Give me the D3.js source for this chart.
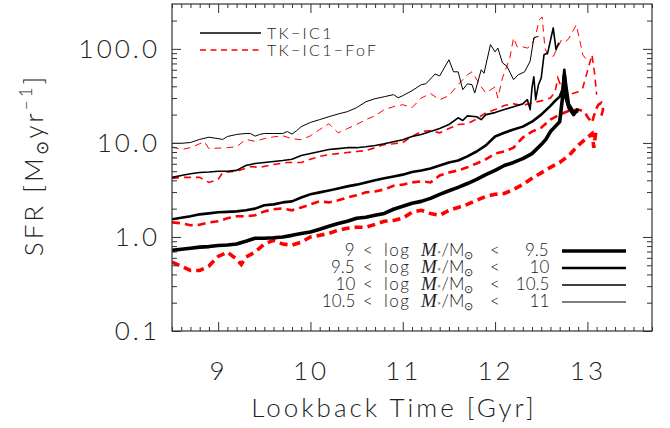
<!DOCTYPE html>
<html>
<head>
<meta charset="utf-8">
<script src="https://cdn.jsdelivr.net/npm/d3@7"></script>
<style>
  body { margin: 0; background: #fff; }
  text { font-family: Lato, "DejaVu Sans", sans-serif; font-weight: 300; fill: #222; }
</style>
</head>
<body>
<svg id="svg" width="670" height="428"></svg>
<script>
// mass bins (log M*/Msun)
const binLow = ['9', '9.5', '10', '10.5'];
const binHigh = ['9.5', '10', '10.5', '11'];
const xTicks = [9, 10, 11, 12, 13];
const yTicks = [0.1, 1, 10, 100];
const runNames = ['TK\u2212IC1', 'TK\u2212IC1\u2212FoF'];

// [lookback time Gyr, SFR Msun/yr]  -- TK-IC1
const tk_9_95 = [[8.5,0.72],[8.6,0.74],[8.7,0.76],[8.8,0.78],[8.9,0.79],[9.0,0.81],[9.1,0.82],[9.2,0.84],[9.3,0.90],[9.4,0.97],[9.5,0.97],[9.6,0.98],[9.7,1.0],[9.8,1.04],[9.9,1.09],[10.0,1.13],[10.1,1.21],[10.2,1.30],[10.3,1.39],[10.4,1.47],[10.5,1.58],[10.6,1.62],[10.7,1.70],[10.8,1.78],[10.9,1.97],[11.0,2.12],[11.1,2.28],[11.2,2.39],[11.3,2.57],[11.4,2.84],[11.5,3.1],[11.6,3.37],[11.7,3.7],[11.8,4.1],[11.9,4.6],[12.0,5.1],[12.1,5.75],[12.2,6.2],[12.3,6.8],[12.4,7.7],[12.5,9.6],[12.55,10.9],[12.6,13.2],[12.65,14.9],[12.7,16.8],[12.73,30],[12.75,52],[12.77,30],[12.8,23.7],[12.85,20],[12.9,23]];
const tk_95_10 = [[8.5,1.54],[8.6,1.60],[8.7,1.66],[8.8,1.74],[8.9,1.78],[9.0,1.83],[9.1,1.85],[9.2,1.87],[9.3,1.92],[9.4,2.0],[9.5,2.17],[9.6,2.22],[9.7,2.33],[9.8,2.39],[9.9,2.63],[10.0,2.84],[10.1,2.98],[10.2,3.12],[10.3,3.28],[10.4,3.45],[10.5,3.6],[10.6,3.8],[10.7,4.0],[10.8,4.2],[10.9,4.4],[11.0,4.6],[11.1,4.9],[11.2,5.1],[11.3,5.35],[11.4,5.75],[11.5,6.2],[11.6,6.5],[11.7,7.2],[11.8,8.1],[11.9,9.4],[12.0,11.7],[12.1,12.8],[12.2,13.9],[12.3,14.9],[12.4,16.8],[12.5,20],[12.6,24.8],[12.65,28],[12.7,31],[12.73,37],[12.75,60],[12.77,41.6],[12.8,26],[12.85,21.5],[12.9,21.5]];
const tk_10_105 = [[8.5,4.3],[8.6,4.5],[8.7,4.7],[8.8,4.85],[8.9,4.9],[9.0,5.0],[9.1,5.0],[9.2,5.1],[9.3,5.75],[9.4,6.05],[9.5,6.2],[9.6,6.35],[9.7,6.5],[9.8,6.7],[9.9,7.35],[10.0,7.7],[10.1,8.1],[10.2,8.5],[10.3,8.7],[10.4,8.9],[10.5,8.9],[10.6,9.1],[10.7,9.4],[10.8,9.8],[10.9,10.3],[11.0,10.8],[11.1,11.7],[11.2,12.3],[11.3,13.2],[11.4,14.2],[11.5,15.7],[11.6,18.5],[11.65,17.3],[11.7,19.4],[11.8,19],[11.85,17.7],[11.9,20],[12.0,21],[12.1,22.6],[12.2,24.3],[12.3,26],[12.35,28.8],[12.38,22.6],[12.4,38.6],[12.42,50.6],[12.44,28.8],[12.47,41.6],[12.5,49],[12.53,86.5],[12.57,90.5],[12.63,167],[12.66,98],[12.69,116]];
const tk_105_11 = [[8.5,9.9],[8.6,9.9],[8.7,10.1],[8.8,10.9],[8.9,11.5],[9.0,11.1],[9.05,10.9],[9.1,11.7],[9.2,12.3],[9.3,12.6],[9.35,12.6],[9.4,11.8],[9.45,12.3],[9.5,12.6],[9.6,12.6],[9.7,12.6],[9.75,13.2],[9.8,12.4],[9.85,13.5],[9.9,14.9],[10.0,16.5],[10.1,17.7],[10.2,19],[10.3,20.3],[10.4,21.5],[10.5,23.7],[10.6,27.4],[10.7,29.5],[10.8,31],[10.9,32.6],[10.95,30.2],[11.0,31.8],[11.1,35.9],[11.2,41.6],[11.25,42.5],[11.35,54],[11.4,51.6],[11.5,76.6],[11.55,57],[11.6,57],[11.65,36.8],[11.7,42.5],[11.75,41.6],[11.78,34],[11.85,60],[11.88,55],[11.95,111],[12.0,93],[12.03,102],[12.08,71],[12.13,65],[12.2,47],[12.25,53],[12.32,57],[12.38,74],[12.42,131],[12.47,136]];

// TK-IC1-FoF
const fof_9_95 = [[8.5,0.54],[8.6,0.49],[8.7,0.44],[8.8,0.44],[8.9,0.49],[9.0,0.62],[9.1,0.69],[9.2,0.58],[9.25,0.51],[9.3,0.61],[9.4,0.69],[9.5,0.84],[9.6,0.92],[9.7,0.84],[9.8,0.82],[9.9,0.88],[10.0,1.0],[10.1,1.04],[10.2,1.09],[10.3,1.18],[10.4,1.24],[10.5,1.27],[10.6,1.27],[10.7,1.36],[10.8,1.47],[10.9,1.50],[11.0,1.58],[11.1,1.83],[11.2,1.92],[11.3,1.78],[11.4,1.70],[11.5,1.92],[11.6,2.06],[11.7,2.22],[11.8,2.45],[11.9,2.70],[12.0,2.84],[12.1,2.9],[12.2,3.2],[12.3,3.6],[12.4,4.2],[12.5,4.8],[12.6,5.5],[12.7,6.2],[12.8,7.35],[12.9,9.4],[13.0,11.4],[13.05,12.5],[13.07,8.9],[13.09,12.8]];
const fof_95_10 = [[8.5,1.43],[8.6,1.40],[8.7,1.33],[8.8,1.35],[8.9,1.43],[9.0,1.47],[9.1,1.58],[9.2,1.66],[9.3,1.66],[9.4,1.70],[9.5,1.87],[9.6,1.97],[9.7,2.01],[9.8,1.92],[9.9,2.06],[10.0,2.22],[10.1,2.39],[10.2,2.33],[10.3,2.45],[10.4,2.63],[10.5,2.77],[10.6,2.98],[10.7,3.05],[10.8,3.2],[10.9,3.5],[11.0,3.6],[11.1,3.8],[11.2,3.9],[11.3,3.8],[11.4,4.5],[11.5,4.85],[11.6,5.1],[11.7,5.5],[11.8,6.05],[11.9,6.7],[12.0,7.7],[12.1,8.1],[12.2,8.9],[12.3,11.4],[12.4,13.2],[12.5,14.5],[12.6,17.7],[12.7,20],[12.8,22],[12.9,22.6],[12.97,21.5],[13.0,19],[13.05,16.4],[13.09,22.6],[13.12,25.5],[13.15,26.7],[13.17,22.6],[13.14,17.7]];
const fof_10_105 = [[8.5,4.2],[8.6,4.3],[8.7,4.3],[8.8,4.3],[8.9,3.8],[9.0,4.1],[9.05,4.85],[9.2,5.0],[9.35,5.6],[9.45,5.5],[9.6,5.9],[9.75,6.2],[9.9,6.2],[10.0,6.7],[10.1,7.2],[10.2,7.5],[10.3,7.7],[10.4,7.9],[10.5,8.1],[10.6,8.3],[10.7,8.9],[10.8,9.6],[10.9,9.8],[11.0,10.1],[11.1,11.7],[11.2,13.2],[11.3,13.5],[11.4,12.8],[11.5,14.2],[11.6,15.7],[11.7,16.0],[11.8,18],[11.9,21],[12.0,22.6],[12.1,25],[12.2,26],[12.3,25],[12.4,26.7],[12.5,28],[12.6,30],[12.65,35],[12.68,49],[12.72,38.6],[12.8,32.6],[12.9,35],[12.95,38.6],[13.05,86.5],[13.08,53],[13.1,32.6]];
const fof_105_11 = [[8.5,9.1],[8.6,8.5],[8.7,8.9],[8.8,9.8],[8.85,10.3],[8.9,8.7],[9.0,8.8],[9.1,8.9],[9.2,9.1],[9.3,10.9],[9.4,10.4],[9.5,11.1],[9.6,11.6],[9.7,11.9],[9.8,11.1],[9.9,10.8],[10.0,11.9],[10.1,13.9],[10.2,16],[10.3,12.8],[10.4,14.2],[10.5,15.7],[10.6,17.7],[10.7,19.4],[10.8,22.6],[10.9,24.3],[11.0,25.5],[11.1,23.7],[11.2,30],[11.3,33.5],[11.4,28.8],[11.5,31.8],[11.6,41.6],[11.7,53],[11.75,57],[11.85,39.4],[11.9,34],[12.0,39.4],[12.03,30],[12.08,49],[12.16,80],[12.2,131],[12.24,105],[12.3,105],[12.35,102],[12.4,111],[12.44,141],[12.48,204],[12.51,218],[12.54,102],[12.57,86.5],[12.63,83],[12.72,125],[12.77,120],[12.8,130],[12.88,180],[12.92,120],[12.95,86.5],[12.99,76.6]];

const tkRuns = [tk_9_95, tk_95_10, tk_10_105, tk_105_11];
const fofRuns = [fof_9_95, fof_95_10, fof_10_105, fof_105_11];

const L = 172, R = 652, T = 4, B = 331;
const widths = [3.6, 2.6, 1.6, 1];

const svg = d3.select('#svg');
const x = d3.scaleLinear().domain([8.5, 13.7]).range([L, R]);
const y = d3.scaleLog().domain([0.1, 300]).range([B, T]);

const line = d3.line().x(d => x(d[0])).y(d => y(d[1]));

svg.append('clipPath').attr('id', 'clip')
  .append('rect').attr('x', L).attr('y', T).attr('width', R - L).attr('height', B - T);

const plot = svg.append('g').attr('clip-path', 'url(#clip)');

plot.selectAll('.fof')
  .data(fofRuns)
  .enter()
  .append('path')
  .attr('class', 'fof')
  .attr('d', line)
  .attr('fill', 'none')
  .attr('stroke', '#ff0000')
  .attr('stroke-width', (d, i) => widths[i])
  .attr('stroke-dasharray', (d, i) => i < 2 ? '8,5' : '7,5');

plot.selectAll('.tk')
  .data(tkRuns)
  .enter()
  .append('path')
  .attr('class', 'tk')
  .attr('d', line)
  .attr('fill', 'none')
  .attr('stroke', '#000')
  .attr('stroke-width', (d, i) => widths[i])
  .attr('stroke-linejoin', 'round');

// axes
const xMinor = d3.range(85, 138).map(i => i / 10).filter(v => Math.abs(v - Math.round(v)) > 1e-6);
const yMinor = [];
[-1, 0, 1, 2].forEach(e => { for (let k = 2; k <= 9; k++) { const v = k * Math.pow(10, e); if (v < 299) yMinor.push(v); } });

function clean(g) {
  g.select('.domain').remove();
  g.attr('color', '#333');
  g.selectAll('line').attr('stroke-width', 1);
}

svg.append('g').attr('transform', `translate(0,${B})`)
  .call(d3.axisBottom(x).tickValues(xTicks).tickSize(-9).tickPadding(31).tickFormat(d3.format('d')))
  .call(clean)
  .selectAll('text').attr('font-size', 26).attr('letter-spacing', 3);
svg.append('g').attr('transform', `translate(0,${B})`)
  .call(d3.axisBottom(x).tickValues(xMinor).tickSize(-4).tickFormat(''))
  .call(clean);
svg.append('g').attr('transform', `translate(0,${T})`)
  .call(d3.axisTop(x).tickValues(xTicks).tickSize(-9).tickFormat(''))
  .call(clean);
svg.append('g').attr('transform', `translate(0,${T})`)
  .call(d3.axisTop(x).tickValues(xMinor).tickSize(-4).tickFormat(''))
  .call(clean);

svg.append('g').attr('transform', `translate(${L},0)`)
  .call(d3.axisLeft(y).tickValues(yTicks).tickSize(-9).tickPadding(12).tickFormat(d3.format('.1f')))
  .call(clean)
  .selectAll('text').attr('font-size', 26).attr('letter-spacing', 3);
svg.append('g').attr('transform', `translate(${L},0)`)
  .call(d3.axisLeft(y).tickValues(yMinor).tickSize(-5).tickFormat(''))
  .call(clean);
svg.append('g').attr('transform', `translate(${R},0)`)
  .call(d3.axisRight(y).tickValues(yTicks).tickSize(-9).tickFormat(''))
  .call(clean);
svg.append('g').attr('transform', `translate(${R},0)`)
  .call(d3.axisRight(y).tickValues(yMinor).tickSize(-5).tickFormat(''))
  .call(clean);

svg.append('rect')
  .attr('x', L).attr('y', T).attr('width', R - L).attr('height', B - T)
  .attr('fill', 'none').attr('stroke', '#333').attr('stroke-width', 1.2);

// axis titles
svg.append('text')
  .attr('x', 394).attr('y', 417)
  .attr('text-anchor', 'middle')
  .attr('font-size', 26).attr('letter-spacing', 3)
  .text('Lookback Time [Gyr]');

const yt = svg.append('text')
  .attr('transform', 'translate(43,165) rotate(-90)')
  .attr('text-anchor', 'middle')
  .attr('font-size', 26).attr('letter-spacing', 3);
yt.append('tspan').text('SFR [M');
yt.append('tspan').attr('font-size', 17).attr('dy', 5).text('\u2299');
yt.append('tspan').attr('dy', -5).text('yr');
yt.append('tspan').attr('font-size', 17).attr('dy', -11).text('\u22121');
yt.append('tspan').attr('dy', 11).text(']');

// run legend (top-left)
const runLeg = svg.append('g');
runNames.forEach((name, i) => {
  const yy = 33 + i * 17;
  runLeg.append('line')
    .attr('x1', 200).attr('x2', 261).attr('y1', yy).attr('y2', yy)
    .attr('stroke', i === 0 ? '#000' : '#ff0000').attr('stroke-width', 1.3)
    .attr('stroke-dasharray', i === 0 ? null : '6,4.5');
  runLeg.append('text')
    .attr('x', 267).attr('y', yy + 6)
    .attr('font-size', 16).attr('letter-spacing', 2.3)
    .text(name);
});

// mass bin legend (bottom-right), one text per row
const massLeg = svg.append('g').attr('font-size', 17);
binLow.forEach((lo, i) => {
  const yy = 251 + i * 17;
  massLeg.append('line')
    .attr('x1', 562).attr('x2', 626).attr('y1', yy).attr('y2', yy)
    .attr('stroke', '#000').attr('stroke-width', widths[i]);
  const by = yy + 5;
  const row = massLeg.append('text').attr('y', by);
  // widths of the prefix / suffix numbers so they line up on the right
  const loW = lo.length * 9.2 - (lo.includes('.') ? 4.6 : 0);
  const hiW = binHigh[i].length * 9.2 - (binHigh[i].includes('.') ? 4.6 : 0);
  row.append('tspan').attr('x', 354 - loW).text(lo);
  row.append('tspan').attr('x', 363).text('<');
  row.append('tspan').attr('x', 384).attr('letter-spacing', 1.5).text('log');
  row.append('tspan').attr('x', 421).attr('letter-spacing', 0)
    .attr('font-family', '"Liberation Serif", serif').attr('font-style', 'italic')
    .attr('font-size', 19).text('M');
  row.append('tspan').attr('font-size', 11).attr('dy', 3).text('*');
  row.append('tspan').attr('dy', -3).text('/M');
  row.append('tspan').attr('font-size', 11).attr('dy', 3).text('\u2299');
  row.append('tspan').attr('x', 490).attr('dy', -3).text('<');
  row.append('tspan').attr('x', 548 - hiW).text(binHigh[i]);
});
</script>
</body>
</html>
